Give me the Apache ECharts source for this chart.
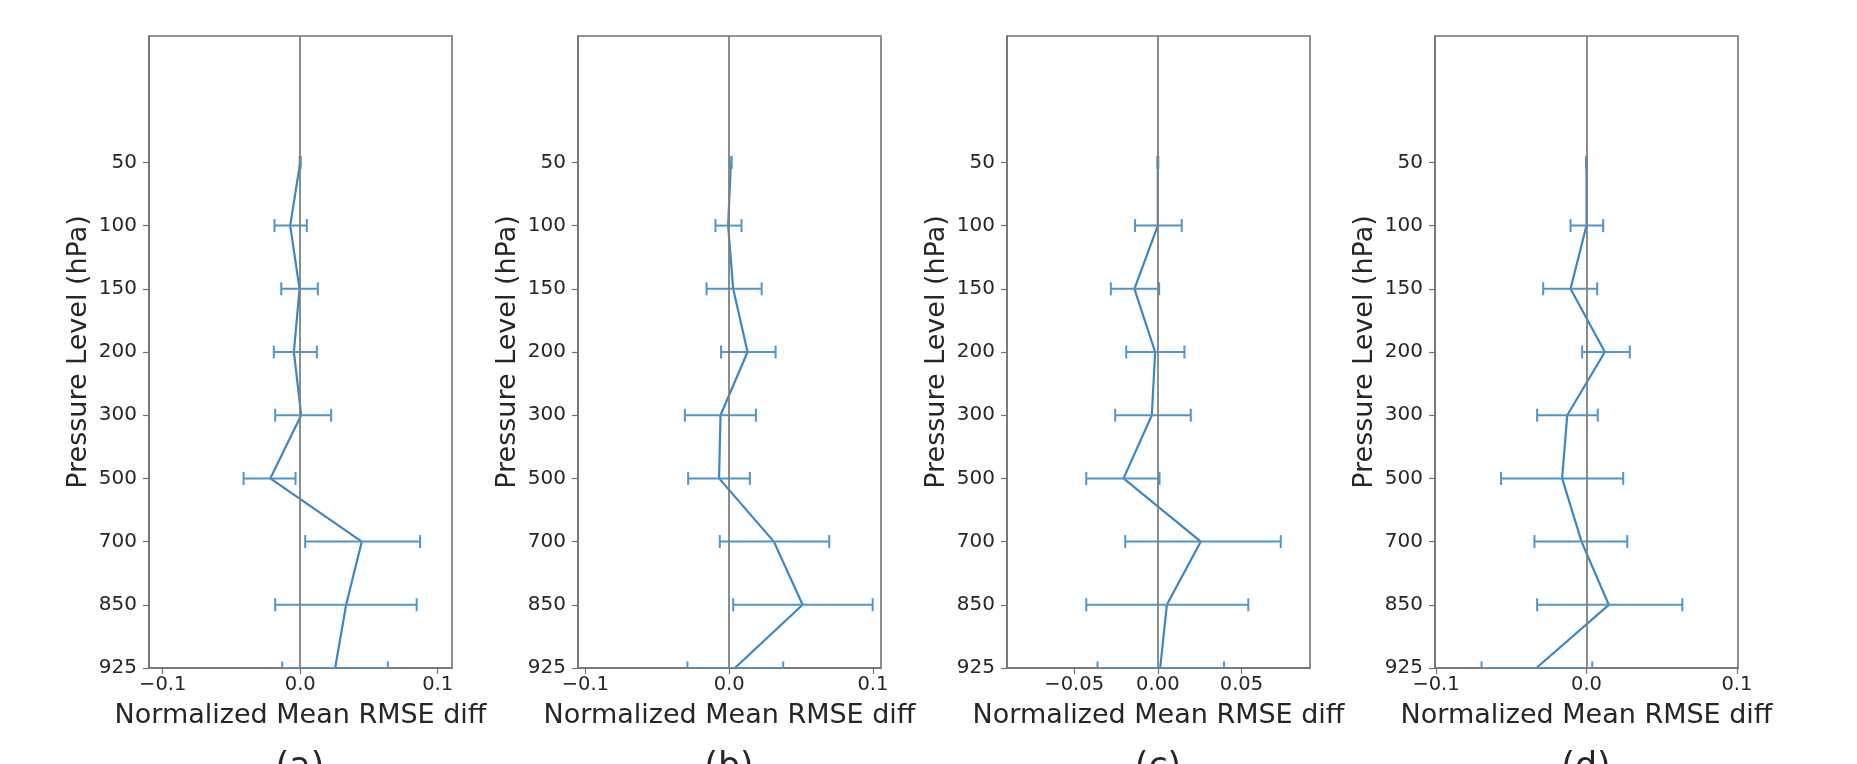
<!DOCTYPE html>
<html>
<head>
<meta charset="utf-8">
<script src="https://cdn.jsdelivr.net/npm/echarts@6/dist/echarts.min.js"></script>
<style>
  html, body { margin: 0; padding: 0; background: #fff; }
  #main { width: 1857px; height: 764px; }
</style>
</head>
<body>
<div id="main"></div>
<script>
var myChart = echarts.init(document.getElementById('main'));

// pressure levels, top to bottom
var levels = ['50', '100', '150', '200', '300', '500', '700', '850', '925'];

// (a)
var meanA = [0.0, -0.0073, -0.0005, -0.0046, 0.0007, -0.0218, 0.0448, 0.0334, 0.0254];
var lowA  = [-0.0004, -0.0187, -0.0138, -0.0192, -0.0182, -0.0412, 0.0036, -0.0182, -0.0131];
var highA = [0.0004, 0.0048, 0.0128, 0.0121, 0.0225, -0.0034, 0.0872, 0.0847, 0.0637];
// (b)
var meanB = [0.0012, -0.0007, 0.0028, 0.0128, -0.006, -0.007, 0.0311, 0.0511, 0.004];
var lowB  = [0.0004, -0.0095, -0.0157, -0.0056, -0.0308, -0.0285, -0.0065, 0.0028, -0.029];
var highB = [0.0018, 0.0086, 0.0226, 0.0323, 0.0186, 0.0144, 0.0696, 0.0998, 0.0376];
// (c)
var meanC = [0.0, 0.0, -0.014, -0.0016, -0.0036, -0.0205, 0.0257, 0.0054, 0.0014];
var lowC  = [-0.0003, -0.0136, -0.0281, -0.0189, -0.0255, -0.0428, -0.0195, -0.0428, -0.0361];
var highC = [0.0003, 0.0143, 0.0008, 0.0159, 0.0197, 0.001, 0.0735, 0.0541, 0.0396];
// (d)
var meanD = [0.0, 0.0, -0.0106, 0.0122, -0.0128, -0.0162, -0.0033, 0.0148, -0.0333];
var lowD  = [-0.0003, -0.0106, -0.0288, -0.0029, -0.0328, -0.0568, -0.0346, -0.0328, -0.0698];
var highD = [0.0003, 0.0111, 0.0071, 0.0288, 0.0075, 0.0244, 0.0271, 0.0637, 0.0038];

var ticksWide = [-0.1, 0, 0.1];
var ticksNarrow = [-0.05, 0, 0.05];

var panels = [
  { tag: '(a)', mean: meanA, low: lowA, high: highA, left: 149, min: -0.110, max: 0.1104, ticks: ticksWide, digits: 1 },
  { tag: '(b)', mean: meanB, low: lowB, high: highB, left: 578, min: -0.1051, max: 0.1056, ticks: ticksWide, digits: 1 },
  { tag: '(c)', mean: meanC, low: lowC, high: highC, left: 1007, min: -0.0902, max: 0.091, ticks: ticksNarrow, digits: 2 },
  { tag: '(d)', mean: meanD, low: lowD, high: highD, left: 1435, min: -0.1007, max: 0.1007, ticks: ticksWide, digits: 1 }
];

var font = 'DejaVu Sans';
var textColor = '#262626';
var frameColor = '#737373';
var lineColor = '#3a87c5';
var errColor = '#4e96ce';

var grids = [], xAxes = [], yAxes = [], series = [], titles = [];

panels.forEach(function (p, i) {
  grids.push({
    left: p.left, top: 36, width: 303, height: 632,
    show: true, borderColor: frameColor, borderWidth: 1.6, backgroundColor: '#fff'
  });
  xAxes.push({
    type: 'value', gridIndex: i, min: p.min, max: p.max,
    name: 'Normalized Mean RMSE diff', nameLocation: 'middle', nameGap: 34,
    nameTextStyle: { fontFamily: font, fontSize: 27, color: textColor },
    axisLine: { show: true, onZero: false, lineStyle: { color: frameColor, width: 1.6 } },
    axisTick: { show: true, length: 6, customValues: p.ticks, lineStyle: { color: frameColor, width: 1.2 } },
    axisLabel: {
      customValues: p.ticks, margin: 7, fontFamily: font, fontSize: 19.5, color: textColor,
      formatter: function (v) {
        var s = Math.abs(v).toFixed(p.digits);
        return v < 0 ? '\u2212' + s : s;
      }
    },
    splitLine: { show: false }
  });
  yAxes.push({
    type: 'value', gridIndex: i, inverse: true, min: -2, max: 8,
    name: 'Pressure Level (hPa)', nameLocation: 'middle', nameGap: 57, nameRotate: 90,
    nameTextStyle: { fontFamily: font, fontSize: 27, color: textColor },
    axisLine: { show: true, onZero: false, lineStyle: { color: frameColor, width: 1.6 } },
    axisTick: { show: true, length: 6, customValues: [0, 1, 2, 3, 4, 5, 6, 7, 8], lineStyle: { color: frameColor, width: 1.2 } },
    axisLabel: {
      customValues: [0, 1, 2, 3, 4, 5, 6, 7, 8], margin: 12, fontFamily: font, fontSize: 20, color: textColor,
      formatter: function (v) { return levels[v]; }
    },
    splitLine: { show: false }
  });

  series.push({
    type: 'line', xAxisIndex: i, yAxisIndex: i,
    data: p.mean.map(function (m, k) { return [m, k]; }),
    symbol: 'none', clip: true,
    lineStyle: { color: lineColor, width: 2.2 },
    markLine: {
      silent: true, symbol: 'none', animation: false,
      label: { show: false },
      lineStyle: { color: '#808080', width: 1.8, type: 'solid' },
      data: [{ xAxis: 0 }]
    },
    z: 3
  });

  series.push({
    type: 'custom', xAxisIndex: i, yAxisIndex: i, clip: true,
    data: p.mean.map(function (m, k) { return [p.low[k], p.high[k], k]; }),
    encode: { x: [0, 1], y: 2 },
    renderItem: function (params, api) {
      var a = api.coord([api.value(0), api.value(2)]);
      var b = api.coord([api.value(1), api.value(2)]);
      var cap = 6.5;
      var style = { stroke: errColor, lineWidth: 2 };
      return {
        type: 'group',
        children: [
          { type: 'line', shape: { x1: a[0], y1: a[1], x2: b[0], y2: b[1] }, style: style },
          { type: 'line', shape: { x1: a[0], y1: a[1] - cap, x2: a[0], y2: a[1] + cap }, style: style },
          { type: 'line', shape: { x1: b[0], y1: b[1] - cap, x2: b[0], y2: b[1] + cap }, style: style }
        ]
      };
    },
    z: 4
  });

  titles.push({
    text: p.tag, left: p.left + 151, top: 750, textAlign: 'center', padding: 0,
    textStyle: { fontFamily: font, fontSize: 35, fontWeight: 'normal', color: textColor }
  });
});

var option = {
  animation: false,
  backgroundColor: '#fff',
  title: titles,
  grid: grids,
  xAxis: xAxes,
  yAxis: yAxes,
  series: series
};
myChart.setOption(option);
</script>
</body>
</html>
